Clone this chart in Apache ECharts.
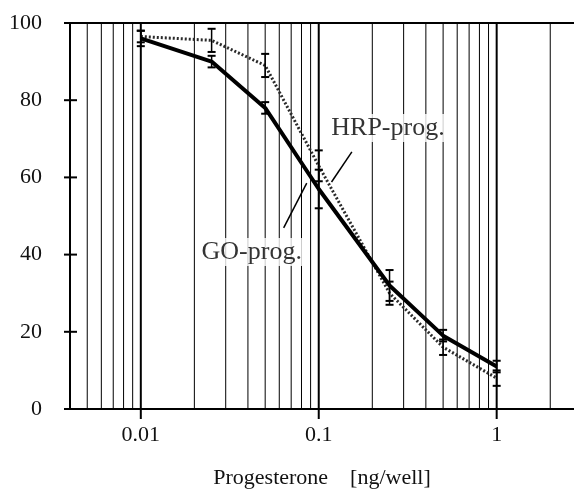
<!DOCTYPE html>
<html>
<head>
<meta charset="utf-8">
<script src="https://cdn.jsdelivr.net/npm/echarts@6/dist/echarts.min.js"></script>
<style>
  html, body { margin: 0; background: #fff; }
  #chart { width: 574px; height: 498px; }
</style>
</head>
<body>
<div id="chart"></div>
<script>
// progesterone dose [ng/well] and binding (%)
var doses = [0.01, 0.025, 0.05, 0.1, 0.25, 0.5, 1];
var goProg = [96, 90, 78, 57, 32, 19, 11];
var goErr = [2, 1.5, 1.5, 5, 4, 1.5, 1.5];
var hrpProg = [96.5, 95.5, 89, 63, 30, 16, 8];
var hrpErr = [1.5, 3, 3, 4, 3, 2, 2];

var xMajor = [0.01, 0.1, 1];
var xMinor = [0.005, 0.006, 0.007, 0.008, 0.009,
  0.02, 0.03, 0.04, 0.05, 0.06, 0.07, 0.08, 0.09,
  0.2, 0.3, 0.4, 0.5, 0.6, 0.7, 0.8, 0.9, 2];
var yTicks = [0, 20, 40, 60, 80, 100];

var X_MIN = 0.004, X_MAX = 2.72;
var FONT = '"Liberation Serif", "DejaVu Serif", serif';

var chart = echarts.init(document.getElementById('chart'));

function pairs(xs, ys, es) {
  return xs.map(function (x, i) { return [x, ys[i], es[i]]; });
}

function errRender(params, api) {
  var x = api.value(0), y = api.value(1), e = api.value(2);
  var hi = api.coord([x, y + e]);
  var lo = api.coord([x, y - e]);
  return {
    type: 'group',
    children: [
      { type: 'line', shape: { x1: hi[0], y1: hi[1], x2: lo[0], y2: lo[1] }, style: { stroke: '#000', lineWidth: 1.5 } },
      { type: 'line', shape: { x1: hi[0] - 4, y1: hi[1], x2: hi[0] + 4, y2: hi[1] }, style: { stroke: '#000', lineWidth: 2 } },
      { type: 'line', shape: { x1: lo[0] - 4, y1: lo[1], x2: lo[0] + 4, y2: lo[1] }, style: { stroke: '#000', lineWidth: 2 } }
    ]
  };
}

// vertical grid: [value, lineWidth]
var gridData = xMinor.map(function (v) { return [v, 1]; })
  .concat(xMajor.map(function (v) { return [v, 2]; }));

var option = {
  animation: false,
  backgroundColor: '#fff',
  grid: { left: 70, right: 0, top: 23, bottom: 89, containLabel: false },
  xAxis: {
    type: 'log',
    logBase: 10,
    min: X_MIN,
    max: X_MAX,
    name: 'Progesterone    [ng/well]',
    nameLocation: 'middle',
    nameGap: 58,
    nameTextStyle: { fontFamily: FONT, fontSize: 22, color: '#111' },
    axisLine: { lineStyle: { color: '#000', width: 2 } },
    axisTick: { show: false },
    splitLine: { show: false },
    axisLabel: {
      fontFamily: FONT, fontSize: 22, color: '#111', margin: 15,
      showMinLabel: false, showMaxLabel: false,
      formatter: function (v) {
        var l = Math.log(v) / Math.LN10;
        if (Math.abs(l - Math.round(l)) > 1e-6 || v < 0.005 || v > 2) return '';
        return String(+v.toPrecision(3));
      }
    }
  },
  yAxis: {
    type: 'value',
    min: 0,
    max: 100,
    interval: 20,
    axisLine: { show: true, lineStyle: { color: '#000', width: 2 } },
    axisTick: { show: false },
    splitLine: { show: false },
    axisLabel: { fontFamily: FONT, fontSize: 22, color: '#111', margin: 28 }
  },
  series: [
    {
      // vertical log grid lines
      type: 'custom',
      silent: true,
      data: gridData,
      renderItem: function (params, api) {
        var b = api.coord([api.value(0), 0]);
        var t = api.coord([api.value(0), 100]);
        return { type: 'line', shape: { x1: b[0], y1: b[1], x2: t[0], y2: t[1] }, style: { stroke: '#000', lineWidth: api.value(1) } };
      },
      z: 1
    },
    {
      name: 'GO-prog.',
      type: 'line',
      data: doses.map(function (d, i) { return [d, goProg[i]]; }),
      symbol: 'none',
      lineStyle: { color: '#000', width: 4 },
      z: 5,
      markLine: {
        silent: true,
        symbol: 'none',
        label: { show: false },
        lineStyle: { color: '#000', type: 'solid' },
        data: [
          { yAxis: 100, lineStyle: { width: 2 } },
          [{ coord: [0.0635, 46.9], lineStyle: { width: 1.5 } }, { coord: [0.0856, 58.5] }],
          [{ coord: [0.118, 58.8], lineStyle: { width: 1.5 } }, { coord: [0.1535, 66.6] }]
        ],
        z: 2
      }
    },
    {
      name: 'HRP-prog.',
      type: 'line',
      data: doses.map(function (d, i) { return [d, hrpProg[i]]; }),
      symbol: 'none',
      lineStyle: { color: '#2a2a2a', width: 3, type: [2, 2] },
      z: 4
    },
    {
      type: 'custom',
      renderItem: errRender,
      data: pairs(doses, goProg, goErr),
      z: 6
    },
    {
      type: 'custom',
      renderItem: errRender,
      data: pairs(doses, hrpProg, hrpErr),
      z: 6
    },
    {
      // major ticks below the x axis
      type: 'custom',
      clip: false,
      data: xMajor.map(function (v) { return [v, 0]; }),
      renderItem: function (params, api) {
        var p = api.coord([api.value(0), 0]);
        return { type: 'line', shape: { x1: p[0], y1: p[1], x2: p[0], y2: p[1] + 10 }, style: { stroke: '#000', lineWidth: 2 } };
      },
      z: 6
    },
    {
      // y ticks crossing the axis
      type: 'custom',
      clip: false,
      data: yTicks.map(function (v) { return [X_MIN, v]; }),
      renderItem: function (params, api) {
        var p = api.coord([X_MIN, api.value(1)]);
        return { type: 'line', shape: { x1: p[0] - 6, y1: p[1], x2: p[0] + 7, y2: p[1] }, style: { stroke: '#000', lineWidth: 2 } };
      },
      z: 6
    },
    {
      type: 'scatter',
      symbolSize: 0,
      silent: true,
      data: [[0.245, 72.8, 'HRP-prog.'], [0.042, 40.7, 'GO-prog.']],
      label: {
        show: true,
        position: 'inside',
        formatter: function (p) { return p.value[2]; },
        fontFamily: FONT,
        fontSize: 26,
        color: '#000',
        backgroundColor: '#fff',
        padding: [1, 2]
      },
      z: 10
    }
  ]
};

chart.setOption(option);
</script>
</body>
</html>
